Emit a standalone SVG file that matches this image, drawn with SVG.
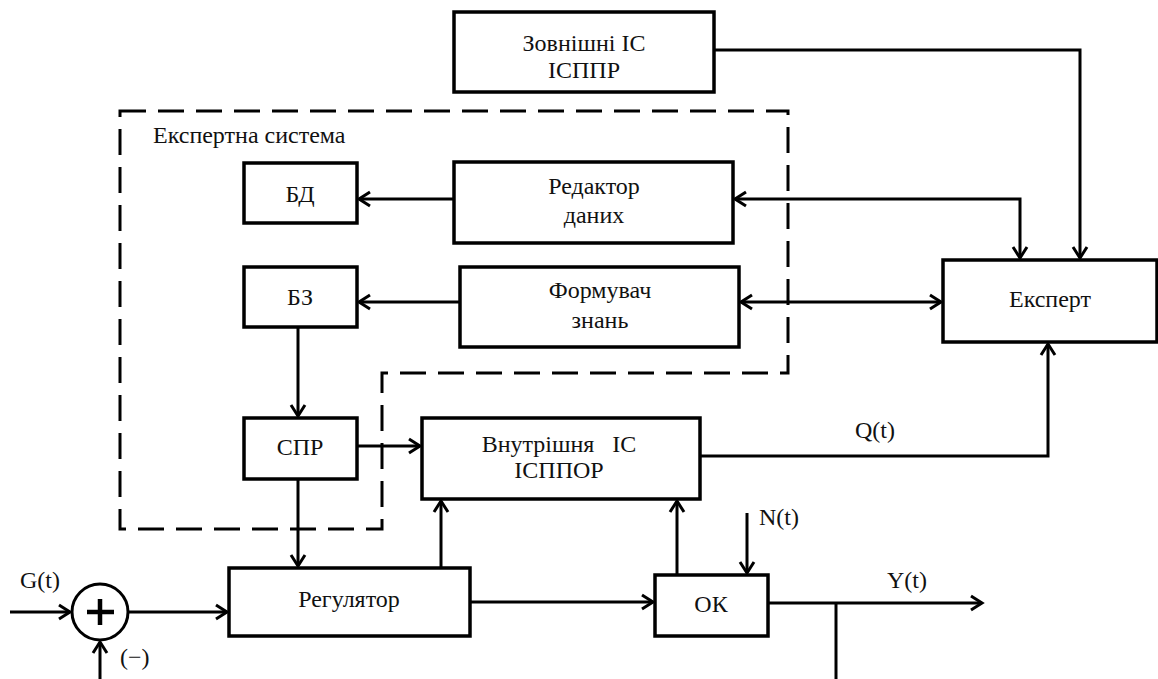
<svg xmlns="http://www.w3.org/2000/svg" width="1158" height="679" viewBox="0 0 1158 679">
  <style>
    .box { fill: #fff; stroke: #000; stroke-width: 3.5; }
    .ln { fill: none; stroke: #000; stroke-width: 3; }
    .dash { fill: none; stroke: #000; stroke-width: 3; stroke-dasharray: 26 12; }
    text { font-family: "Liberation Serif", "Tinos", "Noto Serif", "DejaVu Serif", "Times New Roman", serif; font-size: 24px; fill: #111; }
    .c { text-anchor: middle; }
  </style>
  <defs>
    <marker id="arr" markerUnits="userSpaceOnUse" markerWidth="16" markerHeight="18" viewBox="-13 -9 16 18" refX="0" refY="0" orient="auto-start-reverse">
      <path d="M-11,-7 L0,0 L-11,7" fill="none" stroke="#000" stroke-width="3"/>
    </marker>
  </defs>

  <rect width="1158" height="679" fill="#fff"/>

  <!-- expert system boundary -->
  <g id="expert-system-boundary">
    <path class="dash" d="M120,111 H788 V373 H382 V529 H120 Z"/>
    <text x="153" y="143">Експертна система</text>
  </g>

  <!-- connectors -->
  <g id="connectors">
    <path class="ln" d="M714,50 H1080 V258" marker-end="url(#arr)"/>
    <path class="ln" d="M735,199 H1020 V258" marker-start="url(#arr)" marker-end="url(#arr)"/>
    <path class="ln" d="M741,302 H941" marker-start="url(#arr)" marker-end="url(#arr)"/>
    <path class="ln" d="M454,199 H359" marker-end="url(#arr)"/>
    <path class="ln" d="M460,302 H359" marker-end="url(#arr)"/>
    <path class="ln" d="M298,327 V416" marker-end="url(#arr)"/>
    <path class="ln" d="M357,446 H420" marker-end="url(#arr)"/>
    <path class="ln" d="M298,479 V566" marker-end="url(#arr)"/>
    <path class="ln" d="M441,568 V501" marker-end="url(#arr)"/>
    <path class="ln" d="M677,575 V501" marker-end="url(#arr)"/>
    <path class="ln" d="M747,513 V573" marker-end="url(#arr)"/>
    <path class="ln" d="M700,456 H1048 V344" marker-end="url(#arr)"/>
    <path class="ln" d="M470,602 H653" marker-end="url(#arr)"/>
    <path class="ln" d="M768,603 H982" marker-end="url(#arr)"/>
    <path class="ln" d="M836,603 V679"/>
    <path class="ln" d="M10,612 H70" marker-end="url(#arr)"/>
    <path class="ln" d="M128,612 H227" marker-end="url(#arr)"/>
    <path class="ln" d="M100,679 V642" marker-end="url(#arr)"/>
    <text x="875" y="438" class="c">Q(t)</text>
    <text x="759" y="525">N(t)</text>
    <text x="887" y="588">Y(t)</text>
    <text x="20" y="588">G(t)</text>
    <text x="120" y="665">(−)</text>
  </g>

  <g id="external-is">
    <rect class="box" x="454" y="12" width="260" height="80"/>
    <text x="584" y="51" class="c">Зовнішні ІС</text>
    <text x="584" y="78" class="c">ІСППР</text>
  </g>

  <g id="data-editor">
    <rect class="box" x="454" y="162" width="279" height="81"/>
    <text x="594" y="194" class="c">Редактор</text>
    <text x="594" y="223" class="c">даних</text>
  </g>

  <g id="knowledge-former">
    <rect class="box" x="460" y="267" width="279" height="80"/>
    <text x="600" y="298" class="c">Формувач</text>
    <text x="600" y="328" class="c">знань</text>
  </g>

  <g id="db">
    <rect class="box" x="244" y="163" width="113" height="60"/>
    <text x="300" y="202" class="c">БД</text>
  </g>

  <g id="kb">
    <rect class="box" x="244" y="267" width="113" height="60"/>
    <text x="300" y="305" class="c">БЗ</text>
  </g>

  <g id="dss">
    <rect class="box" x="244" y="418" width="113" height="61"/>
    <text x="300" y="455" class="c">СПР</text>
  </g>

  <g id="expert">
    <rect class="box" x="943" y="260" width="214" height="82"/>
    <text x="1050" y="307" class="c">Експерт</text>
  </g>

  <g id="internal-is">
    <rect class="box" x="422" y="418" width="278" height="81"/>
    <text x="559" y="452" class="c" xml:space="preserve">Внутрішня   ІС</text>
    <text x="559" y="478" class="c">ІСППОР</text>
  </g>

  <g id="regulator">
    <rect class="box" x="229" y="568" width="241" height="68"/>
    <text x="349" y="607" class="c">Регулятор</text>
  </g>

  <g id="plant">
    <rect class="box" x="655" y="575" width="113" height="61"/>
    <text x="711" y="612" class="c">ОК</text>
  </g>

  <g id="summer">
    <circle cx="100" cy="612" r="28" fill="#fff" stroke="#000" stroke-width="3"/>
    <path d="M87,612 H114 M100,599 V625" stroke="#000" stroke-width="4.5" fill="none"/>
  </g>
</svg>
